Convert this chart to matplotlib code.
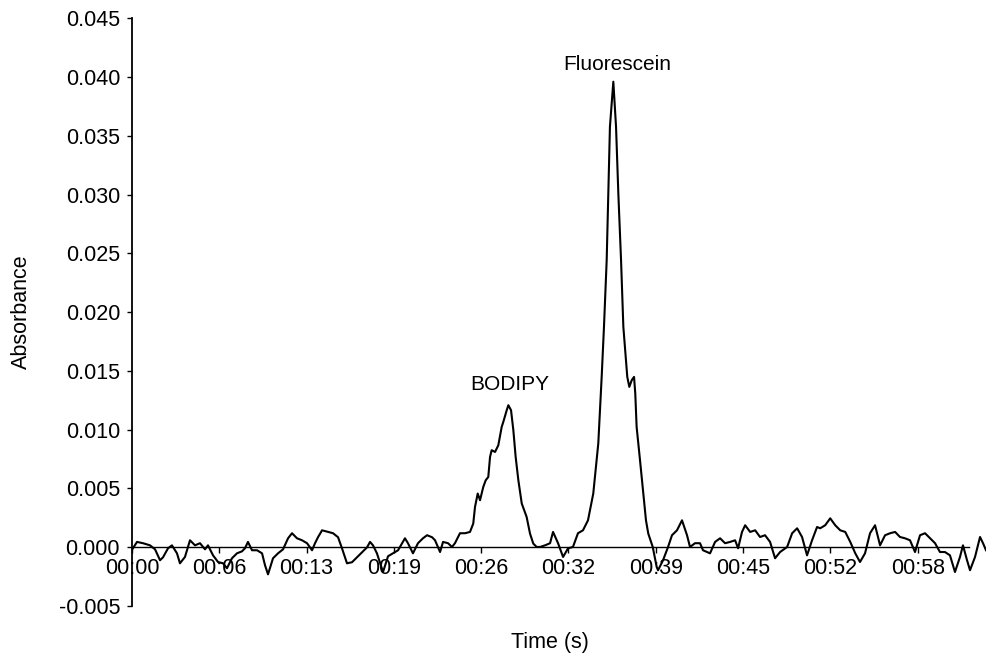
import matplotlib
matplotlib.use("Agg")
import matplotlib.pyplot as plt
from matplotlib.ticker import FormatStrFormatter

plt.rcParams['font.family'] = ['Liberation Sans', 'DejaVu Sans']
plt.rcParams['axes.unicode_minus'] = False

# Time (s) and absorbance
time_s = [0.07, 0.37, 0.81, 1.33, 1.70, 2.07, 2.29, 2.66, 2.95, 3.32, 3.54, 3.91, 4.28, 4.65, 5.02,
          5.39, 5.61, 5.98, 6.35, 6.72, 7.01, 7.38, 7.75, 8.12, 8.34, 8.56, 8.86, 9.23, 9.60, 9.82,
          10.04, 10.41, 10.78, 11.15, 11.52, 11.81, 12.18, 12.55, 12.92, 13.29, 13.51, 13.73, 14.03,
          14.47, 14.84, 15.21, 15.50, 15.87, 16.24, 16.61, 16.98, 17.35, 17.57, 17.79, 18.08, 18.53,
          18.90, 19.27, 19.64, 20.15, 20.37, 20.74, 21.11, 21.48, 21.78, 22.15, 22.37, 22.74, 22.96,
          23.33, 23.62, 23.84, 24.21, 24.58, 24.95, 25.19, 25.32, 25.52, 25.69, 25.93, 26.11, 26.30,
          26.43, 26.55, 26.80, 27.04, 27.29, 27.41, 27.66, 27.78, 27.98, 28.15, 28.32, 28.52, 28.77,
          29.13, 29.38, 29.62, 29.87, 30.12, 30.49, 30.86, 31.08, 31.45, 31.82, 32.19, 32.55, 32.92,
          33.29, 33.66, 34.05, 34.42, 34.67, 34.84, 35.04, 35.16, 35.28, 35.53, 35.73, 35.90, 36.10,
          36.27, 36.56, 36.71, 36.89, 37.06, 37.15, 37.25, 37.50, 37.74, 37.94, 38.11, 38.44, 38.73,
          38.83, 39.20, 39.57, 39.86, 40.23, 40.60, 40.97, 41.19, 41.56, 41.93, 42.15, 42.67, 43.04,
          43.41, 43.78, 44.15, 44.52, 44.74, 45.03, 45.26, 45.63, 46.00, 46.36, 46.73, 47.10, 47.47,
          47.84, 48.36, 48.73, 49.10, 49.46, 49.83, 50.20, 50.57, 50.80, 51.17, 51.54, 51.91, 52.28,
          52.65, 53.02, 53.39, 53.74, 54.11, 54.48, 54.85, 55.22, 55.59, 55.96, 56.33, 56.69, 57.06,
          57.43, 57.80, 58.17, 58.54, 58.91, 59.28, 59.64, 60.01, 60.38, 60.75, 61.12, 61.34, 61.64,
          61.86, 62.23, 62.60, 62.82, 63.04]

absorbance = [-0.00011, 0.00043, 0.00032, 0.00014, -0.00020, -0.00113, -0.00088, -0.00011, 0.00014,
              -0.00054, -0.00139, -0.00085, 0.00057, 0.00014, 0.00032, -0.00020, 0.00014, -0.00071,
              -0.00128, -0.00139, -0.00181, -0.00096, -0.00054, -0.00037, -0.00011, 0.00043, -0.00028,
              -0.00028, -0.00054, -0.00156, -0.00233, -0.00096, -0.00054, -0.00020, 0.00074, 0.00117,
              0.00074, 0.00057, 0.00032, -0.00028, 0.00032, 0.00083, 0.00142, 0.00128, 0.00117,
              0.00083, -0.00011, -0.00139, -0.00130, -0.00088, -0.00045, -0.00003, 0.00043, 0.00014,
              -0.00054, -0.00213, -0.00079, -0.00054, -0.00028, 0.00074, 0.00032, -0.00054, 0.00032,
              0.00074, 0.00100, 0.00083, 0.00057, -0.00043, 0.00043, 0.00032, 0.0, 0.00032, 0.00117,
              0.00117, 0.00128, 0.00199, 0.00341, 0.00455, 0.00398, 0.00511, 0.00568, 0.00596,
              0.00767, 0.00824, 0.00809, 0.00866, 0.01022, 0.01065, 0.01164, 0.01207, 0.01164,
              0.00994, 0.00767, 0.00568, 0.00370, 0.00256, 0.00114, 0.00029, 0.0, 0.0, 0.00014,
              0.00032, 0.00128, 0.00032, -0.00085, -0.00011, 0.0, 0.00117, 0.00142, 0.00227,
              0.00455, 0.00881, 0.01448, 0.01874, 0.02442, 0.03010, 0.03578, 0.03961, 0.03578,
              0.03010, 0.02442, 0.01874, 0.01448, 0.01363, 0.01420, 0.01448, 0.01307, 0.01022,
              0.00739, 0.00455, 0.00227, 0.00114, 0.0, -0.00170, -0.00198, -0.00113, 0.0, 0.00100,
              0.00142, 0.00227, 0.00100, 0.0, 0.00032, 0.00032, -0.00028, -0.00054, 0.00043,
              0.00074, 0.00032, 0.00043, 0.00057, -0.00011, 0.00128, 0.00185, 0.00128, 0.00142,
              0.00085, 0.00100, 0.00043, -0.00096, -0.00043, 0.0, 0.00117, 0.00159, 0.00085,
              -0.00071, 0.00057, 0.00170, 0.00159, 0.00185, 0.00244, 0.00185, 0.00142, 0.00128,
              0.00043, -0.00054, -0.00128, -0.00054, 0.00117, 0.00185, 0.00014, 0.00100, 0.00117,
              0.00128, 0.00085, 0.00074, 0.00057, -0.00043, 0.00100, 0.00117, 0.00074, 0.00032,
              -0.00043, -0.00043, -0.00071, -0.00213, -0.00085, 0.00014, -0.00113, -0.00198,
              -0.00085, 0.00085, 0.00032, -0.00028]

x_tick_pos = [0.0, 6.44, 12.89, 19.33, 25.78, 32.22, 38.67, 45.11, 51.56, 58.0]
x_tick_labels = ['00:00', '00:06', '00:13', '00:19', '00:26', '00:32', '00:39', '00:45', '00:52', '00:58']
y_ticks = [-0.005, 0.0, 0.005, 0.010, 0.015, 0.020, 0.025, 0.030, 0.035, 0.040, 0.045]

peak_names = ['BODIPY', 'Fluorescein']
peak_label_x = [27.90, 35.84]
peak_label_y = [0.01335, 0.04060]

fig = plt.figure(figsize=(9.86, 6.54), dpi=100)
ax = fig.add_axes([132 / 986, 0.07385, (986 - 132) / 986, 0.89802])

ax.plot(time_s, absorbance, color='black', lw=1.5, clip_on=True)

ax.set_xlim(0, 63.04)
ax.set_ylim(-0.005, 0.045)

for s in ['top', 'right']:
    ax.spines[s].set_visible(False)
ax.spines['bottom'].set_position(('data', 0))
ax.spines['bottom'].set_bounds(0, 61.8)
ax.spines['left'].set_bounds(-0.005, 0.045)
ax.spines['bottom'].set_linewidth(1.0)
ax.spines['left'].set_linewidth(1.3)

ax.set_xticks(x_tick_pos)
ax.set_xticklabels(x_tick_labels)
ax.set_yticks(y_ticks)
ax.yaxis.set_major_formatter(FormatStrFormatter('%.3f'))
ax.tick_params(axis='x', direction='out', length=4, width=1, pad=4.2, labelsize=15.5)
ax.tick_params(axis='y', direction='out', length=3.6, width=1, pad=5, labelsize=15.5)

for name, px, py in zip(peak_names, peak_label_x, peak_label_y):
    ax.text(px, py, name, ha='center', va='baseline', fontsize=15)

fig.text(550 / 986, (654 - 648) / 654, 'Time (s)', ha='center', va='baseline', fontsize=15.5)
fig.text(21 / 986, (654 - 312) / 654, 'Absorbance', ha='center', va='center', rotation=90, fontsize=15.5)

fig.savefig('out.png', dpi=100)
